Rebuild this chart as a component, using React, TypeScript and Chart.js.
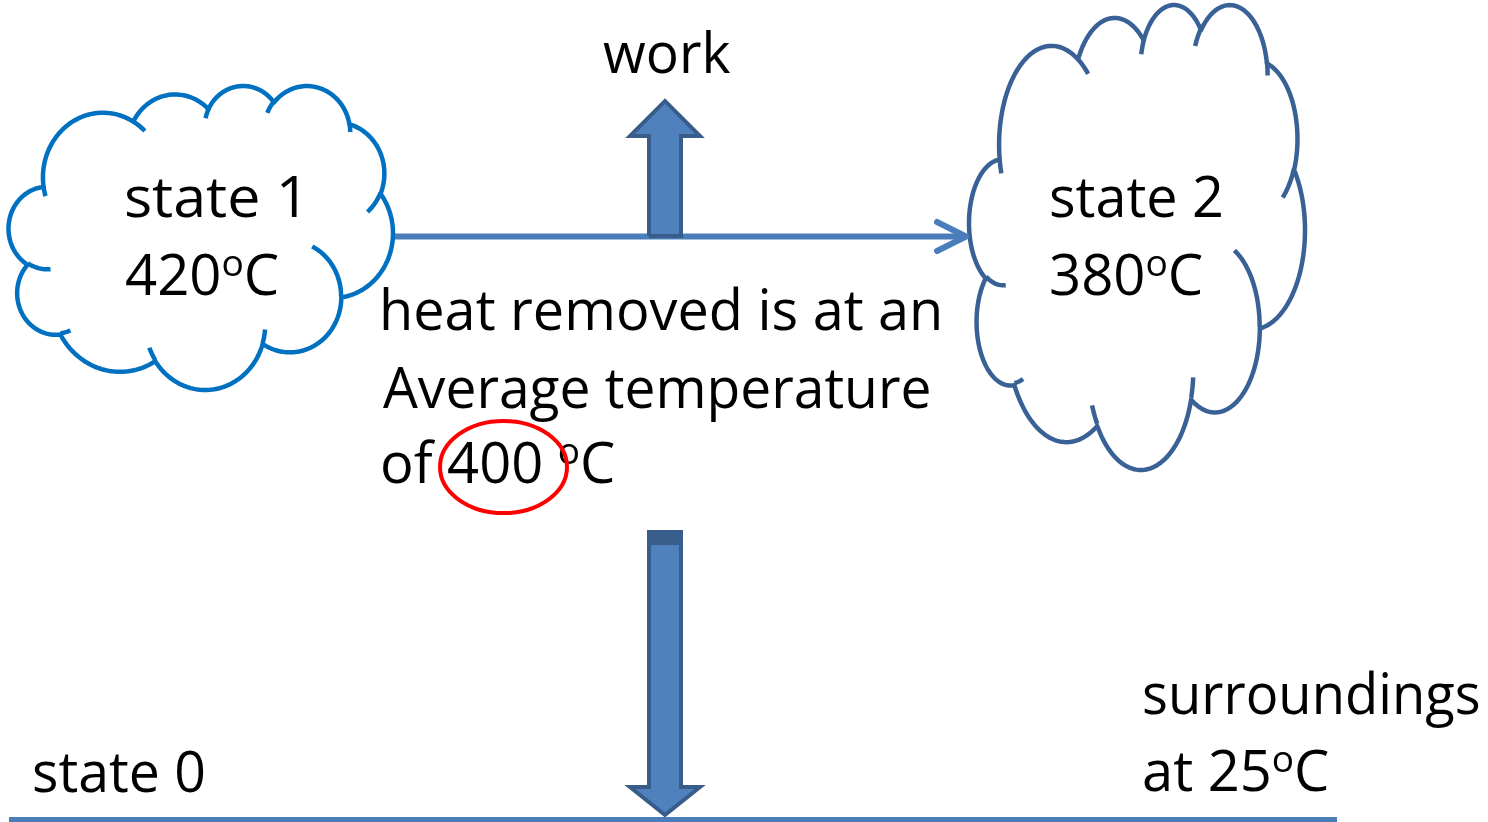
import React, { useEffect, useRef } from "react";
import { Chart, registerables } from "chart.js";

Chart.register(...registerables);

const W = 1488;
const H = 822;

// ---- values / labels ----
const stateNames = ["state 1", "state 2", "state 0"];
const stateTemps = [420, 380];
const averageTemp = 400;
const surroundingsTemp = 25;
const heatLines = ["heat removed is at an", "Average temperature", "of"];
const workLabel = "work";
const surroundingsLabel = "surroundings";

// ---- diagram marks, in the units of the hidden axes ----
const flowLineX = [395, 966];
const flowLineY = [236.5, 236.5];
const flowHeadX = [937, 966, 937];
const flowHeadY = [222, 236.5, 251];
const groundX = [9, 1337];
const groundY = [819.5, 819.5];
const workArrowX = [649, 649, 630, 665, 700, 681, 681, 649];
const workArrowY = [236, 136, 136, 101, 136, 136, 236, 236];
const heatArrowX = [649, 681, 681, 700, 665, 630, 649, 649];
const heatArrowY = [532, 532, 787, 787, 815, 787, 787, 532];
const heatBandX = [647, 683, 683, 647, 647];
const heatBandY = [530, 530, 545, 545, 530];
const cloudBoxX = [
  [8.5, 393],
  [969, 1305],
];
const cloudBoxY = [
  [86, 390],
  [5, 470],
];
const cloudColors = ["#0070c0", "#3a6196"];
const ringCenter = [503.5, 467];
const ringRadii = [63.5, 46];

type Seg = { t: string; sup?: boolean };
type TextItem = { segs: Seg[]; x: number; y: number; w: number };

const deg = "o";
const textItems: TextItem[] = [
  { segs: [{ t: workLabel }], x: 603, y: 73, w: 127 },
  { segs: [{ t: stateNames[0] }], x: 126, y: 217, w: 171 },
  { segs: [{ t: String(stateTemps[0]) }, { t: deg, sup: true }, { t: "C" }], x: 126, y: 295, w: 152 },
  { segs: [{ t: stateNames[1] }], x: 1051, y: 217, w: 170 },
  { segs: [{ t: String(stateTemps[1]) }, { t: deg, sup: true }, { t: "C" }], x: 1051, y: 295, w: 151 },
  { segs: [{ t: heatLines[0] }], x: 383, y: 330, w: 556 },
  { segs: [{ t: heatLines[1] }], x: 383, y: 408, w: 546 },
  {
    segs: [{ t: heatLines[2] + " " + String(averageTemp) + " " }, { t: deg, sup: true }, { t: "C" }],
    x: 383,
    y: 483,
    w: 231,
  },
  { segs: [{ t: surroundingsLabel }], x: 1144, y: 714, w: 335 },
  { segs: [{ t: "at " + String(surroundingsTemp) }, { t: deg, sup: true }, { t: "C" }], x: 1144, y: 791, w: 184 },
  { segs: [{ t: stateNames[2] }], x: 34, y: 792, w: 170 },
];

const FONT = '"Open Sans", "Noto Sans", sans-serif';
const FONT_SIZE = 56;

// PowerPoint "cloud" preset geometry (43200 x 43200 path space)
type Arc = [number, number, number, number];
const cloudStart: [number, number] = [3900, 14370];
const cloudArcs: Arc[] = [
  [6753, 9190, -11429249, 7426832],
  [5333, 7267, -8646143, 5396714],
  [4365, 5945, -8748475, 5983381],
  [4857, 6595, -7859164, 7034504],
  [5333, 7273, -4722533, 6541615],
  [6775, 9220, -2776035, 7816140],
  [5785, 7867, 37501, 6842000],
  [6752, 9215, 1347096, 6910353],
  [7720, 10543, 3974558, 4542661],
  [4360, 5918, -16496525, 8804134],
  [4345, 5945, -14809710, 9151131],
];
const cloudWrinkles: [number, number, Arc][] = [
  [4693, 26177, [4345, 5945, 5204520, 1585770]],
  [6928, 34899, [4360, 5918, 4416628, 686848]],
  [16478, 39090, [6752, 9215, 8257449, 844866]],
  [28827, 34751, [6752, 9215, 387196, 959901]],
  [34129, 22954, [5785, 7867, -4217541, 4255042]],
  [41798, 15354, [5333, 7273, 1819082, 1665090]],
  [38324, 5426, [4857, 6595, -824660, 891534]],
  [29078, 3952, [4857, 6595, -8950887, 1091722]],
  [22141, 4720, [4365, 5945, -9809656, 1061181]],
  [14000, 5192, [6753, 9190, -4002417, 739161]],
  [4127, 15789, [6753, 9190, 9459261, 711490]],
];

function arcPoints(cur: [number, number], arc: Arc): [number, number][] {
  const [wR, hR, st, sw] = arc;
  const a1 = ((st / 60000) * Math.PI) / 180;
  const s = ((sw / 60000) * Math.PI) / 180;
  const r = (a: number) => (wR * hR) / Math.sqrt((hR * Math.cos(a)) ** 2 + (wR * Math.sin(a)) ** 2);
  const cx = cur[0] - r(a1) * Math.cos(a1);
  const cy = cur[1] - r(a1) * Math.sin(a1);
  const n = Math.max(8, Math.ceil(Math.abs(s) / 0.03));
  const pts: [number, number][] = [];
  for (let k = 0; k <= n; k++) {
    const a = a1 + (s * k) / n;
    const rr = r(a);
    pts.push([cx + rr * Math.cos(a), cy + rr * Math.sin(a)]);
  }
  return pts;
}

function buildCloud() {
  let cur: [number, number] = [cloudStart[0], cloudStart[1]];
  const outline: [number, number][] = [cur];
  for (const arc of cloudArcs) {
    const pts = arcPoints(cur, arc);
    outline.push(...pts);
    cur = pts[pts.length - 1];
  }
  const wr = cloudWrinkles.map(([x, y, arc]) => arcPoints([x, y], arc));
  let minX = Infinity,
    maxX = -Infinity,
    minY = Infinity,
    maxY = -Infinity;
  for (const [x, y] of outline) {
    minX = Math.min(minX, x);
    maxX = Math.max(maxX, x);
    minY = Math.min(minY, y);
    maxY = Math.max(maxY, y);
  }
  return { outline, wr, minX, maxX, minY, maxY };
}

const ptsOf = (xs: number[], ys: number[]) => xs.map((x, i) => ({ x, y: ys[i] }));

function drawRich(ctx: CanvasRenderingContext2D, item: TextItem) {
  const fonts = item.segs.map((s) => `${s.sup ? FONT_SIZE * 0.66 : FONT_SIZE}px ${FONT}`);
  const metrics = item.segs.map((s, i) => {
    ctx.font = fonts[i];
    return ctx.measureText(s.t);
  });
  let adv = 0;
  for (let i = 0; i < metrics.length - 1; i++) adv += metrics[i].width;
  const first = metrics[0];
  const last = metrics[metrics.length - 1];
  const inkLeft = -first.actualBoundingBoxLeft;
  const inkRight = adv + last.actualBoundingBoxRight;
  const f = item.w / (inkRight - inkLeft);
  ctx.save();
  ctx.translate(item.x, item.y);
  ctx.scale(f, 1);
  ctx.translate(-inkLeft, 0);
  ctx.fillStyle = "#000000";
  ctx.textBaseline = "alphabetic";
  ctx.textAlign = "left";
  let x = 0;
  item.segs.forEach((s, i) => {
    ctx.font = fonts[i];
    ctx.fillText(s.t, x, s.sup ? -FONT_SIZE * 0.34 : 0);
    x += metrics[i].width;
  });
  ctx.restore();
}

const diagramPlugin = {
  id: "diagram",
  beforeDatasetsDraw(chart: any) {
    const ctx: CanvasRenderingContext2D = chart.ctx;
    const xs = chart.scales.x;
    const ys = chart.scales.y;
    const cloud = buildCloud();
    cloudBoxX.forEach((bx, ci) => {
      const by = cloudBoxY[ci];
      const X0 = xs.getPixelForValue(bx[0]);
      const X1 = xs.getPixelForValue(bx[1]);
      const Y0 = ys.getPixelForValue(by[0]);
      const Y1 = ys.getPixelForValue(by[1]);
      const mx = (x: number) => X0 + ((x - cloud.minX) / (cloud.maxX - cloud.minX)) * (X1 - X0);
      const my = (y: number) => Y0 + ((y - cloud.minY) / (cloud.maxY - cloud.minY)) * (Y1 - Y0);
      ctx.save();
      ctx.strokeStyle = cloudColors[ci];
      ctx.lineWidth = 4.5;
      ctx.lineJoin = "round";
      ctx.beginPath();
      cloud.outline.forEach(([x, y], i) => (i === 0 ? ctx.moveTo(mx(x), my(y)) : ctx.lineTo(mx(x), my(y))));
      ctx.closePath();
      ctx.fillStyle = "#ffffff";
      ctx.fill();
      ctx.stroke();
      ctx.lineCap = "butt";
      for (const w of cloud.wr) {
        ctx.beginPath();
        w.forEach(([x, y], i) => (i === 0 ? ctx.moveTo(mx(x), my(y)) : ctx.lineTo(mx(x), my(y))));
        ctx.stroke();
      }
      ctx.restore();
    });
  },
  afterDatasetsDraw(chart: any) {
    const ctx: CanvasRenderingContext2D = chart.ctx;
    const xs = chart.scales.x;
    const ys = chart.scales.y;
    textItems.forEach((t) =>
      drawRich(ctx, { ...t, x: xs.getPixelForValue(t.x), y: ys.getPixelForValue(t.y) })
    );
    const cx = xs.getPixelForValue(ringCenter[0]);
    const cy = ys.getPixelForValue(ringCenter[1]);
    const rx = Math.abs(xs.getPixelForValue(ringCenter[0] + ringRadii[0]) - cx);
    const ry = Math.abs(ys.getPixelForValue(ringCenter[1] + ringRadii[1]) - cy);
    ctx.save();
    ctx.strokeStyle = "#ff0000";
    ctx.lineWidth = 4;
    ctx.beginPath();
    ctx.ellipse(cx, cy, rx, ry, 0, 0, Math.PI * 2);
    ctx.stroke();
    ctx.restore();
  },
};

export default function App() {
  const ref = useRef<HTMLCanvasElement | null>(null);
  useEffect(() => {
    if (!ref.current) return;
    const base = { showLine: true, pointRadius: 0, pointHoverRadius: 0, tension: 0 };
    const chart = new Chart(ref.current, {
      type: "scatter",
      data: {
        datasets: [
          {
            ...base,
            data: ptsOf(heatBandX, heatBandY),
            borderWidth: 0,
            borderColor: "#385d8a",
            backgroundColor: "#385d8a",
            fill: "shape",
          },
          {
            ...base,
            data: ptsOf(workArrowX, workArrowY),
            borderColor: "#385d8a",
            borderWidth: 4,
            backgroundColor: "#4f81bd",
            fill: "shape",
            borderJoinStyle: "miter",
          },
          {
            ...base,
            data: ptsOf(heatArrowX, heatArrowY),
            borderColor: "#385d8a",
            borderWidth: 4,
            backgroundColor: "#4f81bd",
            fill: "shape",
            borderJoinStyle: "miter",
          },
          {
            ...base,
            data: ptsOf(flowHeadX, flowHeadY),
            borderColor: "#4a7ebb",
            borderWidth: 6,
            borderCapStyle: "round",
            borderJoinStyle: "round",
            fill: false,
          },
          {
            ...base,
            data: ptsOf(flowLineX, flowLineY),
            borderColor: "#4a7ebb",
            borderWidth: 6,
            fill: false,
          },
          {
            ...base,
            data: ptsOf(groundX, groundY),
            borderColor: "#4a7ebb",
            borderWidth: 5,
            fill: false,
          },
        ] as any,
      },
      options: {
        animation: false,
        responsive: false,
        devicePixelRatio: 1,
        events: [],
        layout: { padding: 0 },
        scales: {
          x: { type: "linear", min: 0, max: W, display: false },
          y: { type: "linear", min: 0, max: H, reverse: true, display: false },
        },
        plugins: { legend: { display: false }, tooltip: { enabled: false } },
      },
      plugins: [diagramPlugin],
    });
    return () => chart.destroy();
  }, []);
  return (
    <div style={{ position: "fixed", left: 0, top: 0, width: W, height: H, background: "#ffffff" }}>
      <canvas ref={ref} width={W} height={H} style={{ display: "block", width: W, height: H }} />
    </div>
  );
}
